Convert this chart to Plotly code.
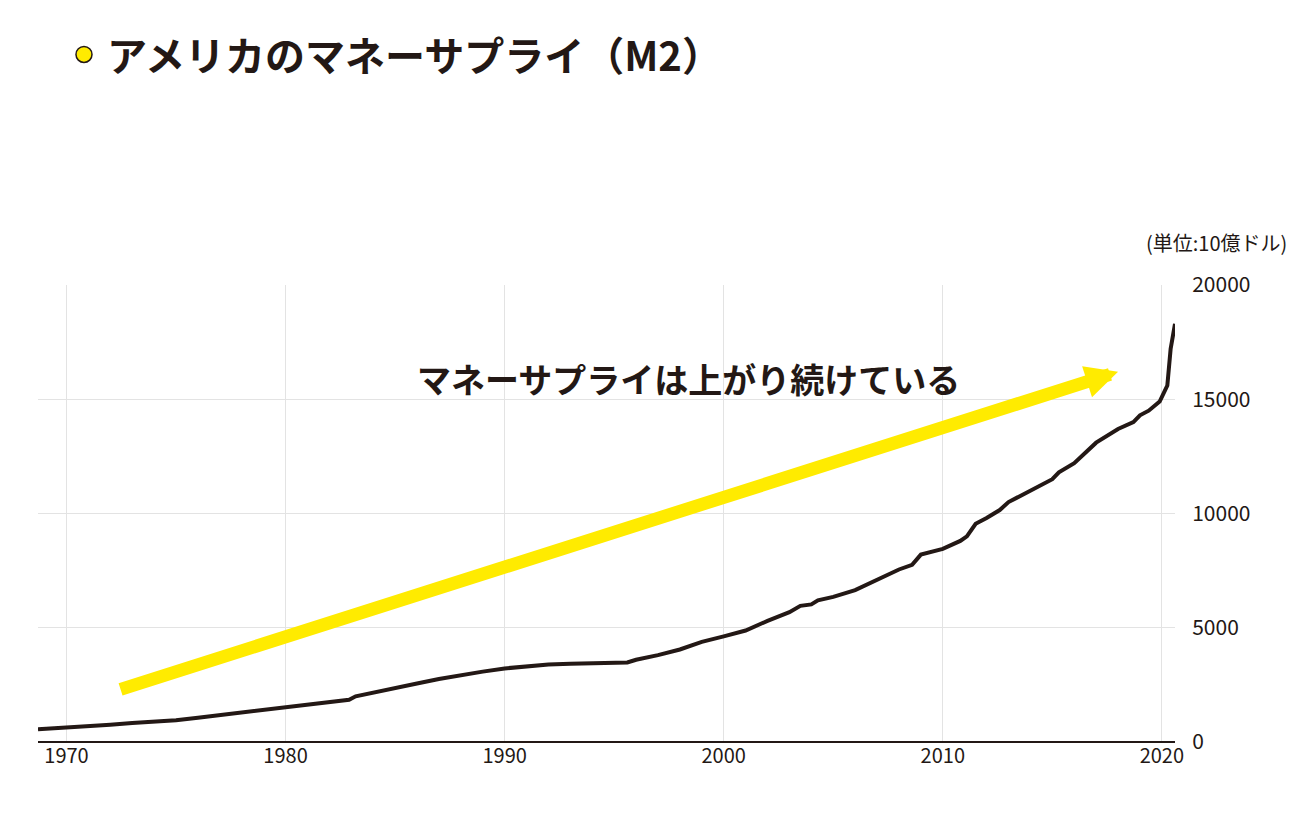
import plotly.graph_objects as go

years = [1968.7,1969.5,1970,1971,1972,1973,1974,1975,1976,1977,1978,1979,1980,1981,1982,1982.9,1983.2,1984,1985,1986,1987,1988,1989,1990,1991,1992,1993,1994,1995,1995.6,1996,1997,1998,1999,2000,2001,2002,2003,2003.5,2004,2004.3,2005,2006,2007,2008,2008.6,2009,2010,2010.8,2011.1,2011.5,2012,2012.6,2013,2014,2015,2015.3,2016,2017,2018,2018.7,2019,2019.4,2019.9,2020.1,2020.25,2020.4,2020.6]
m2 = [560,600,620,680,760,830,880,950,1060,1170,1280,1390,1500,1620,1760,1850,2000,2150,2350,2560,2760,2930,3080,3220,3320,3390,3420,3450,3460,3480,3600,3800,4050,4380,4620,4880,5300,5680,5960,6020,6200,6350,6650,7100,7550,7750,8200,8450,8800,9000,9550,9800,10150,10500,11000,11500,11800,12200,13100,13700,14000,14300,14500,14900,15300,15600,17200,18300]

arrow_start = (1972.4, 2280)
arrow_end = (2018.0, 16200)
arrow_label = "マネーサプライは上がり続けている"
title = "アメリカのマネーサプライ（M2）"
unit = "(単位:10億ドル)"

font = "Noto Sans CJK JP"
fig = go.Figure()
fig.add_trace(go.Scatter(x=years, y=m2, mode="lines",
                         line=dict(color="#231815", width=4), hoverinfo="skip"))
fig.add_annotation(x=arrow_end[0], y=arrow_end[1], ax=arrow_start[0], ay=arrow_start[1],
                   xref="x", yref="y", axref="x", ayref="y", text="", showarrow=True,
                   arrowhead=2, arrowsize=0.5, arrowwidth=13, arrowcolor="#ffeb00")
fig.add_annotation(x=1998.4, y=15900, xref="x", yref="y", text="<b>" + arrow_label + "</b>", showarrow=False,
                   font=dict(family=font, size=34, color="#231815"))
fig.add_annotation(x=0.059, y=1.505, xref="paper", yref="paper", xanchor="left", yanchor="middle",
                   text="<b>" + title + "</b>", showarrow=False,
                   font=dict(family=font, size=40, color="#231815"))
fig.add_shape(type="circle", xref="paper", yref="paper", x0=0.0334, x1=0.0475, y0=1.487, y1=1.522,
              fillcolor="#ffeb00", line=dict(color="#231815", width=1.5))
fig.add_annotation(x=1.1, y=1.13, xref="paper", yref="paper", xanchor="right", text=unit,
                   showarrow=False, font=dict(family=font, size=20, color="#231815"))

fig.update_layout(
    width=1300, height=813, paper_bgcolor="white", plot_bgcolor="white",
    margin=dict(l=30, r=133, t=277, b=79), showlegend=False,
    xaxis=dict(range=[1968.7, 2020.6], tickvals=[1970,1980,1990,2000,2010,2020],
               showgrid=True, gridcolor="#e3e3e3", zeroline=False,
               tickfont=dict(family=font, size=20, color="#231815"), ticks="", ticklen=0),
    yaxis=dict(range=[0, 20000], side="right", tickvals=[0,5000,10000,15000,20000],
               tickformat="d",
               showgrid=True, gridcolor="#e3e3e3", zeroline=True, zerolinecolor="#231815",
               zerolinewidth=2, tickfont=dict(family=font, size=21, color="#231815"),
               ticks="outside", ticklen=12, tickcolor="white"),
)
fig.write_html("out.html")
